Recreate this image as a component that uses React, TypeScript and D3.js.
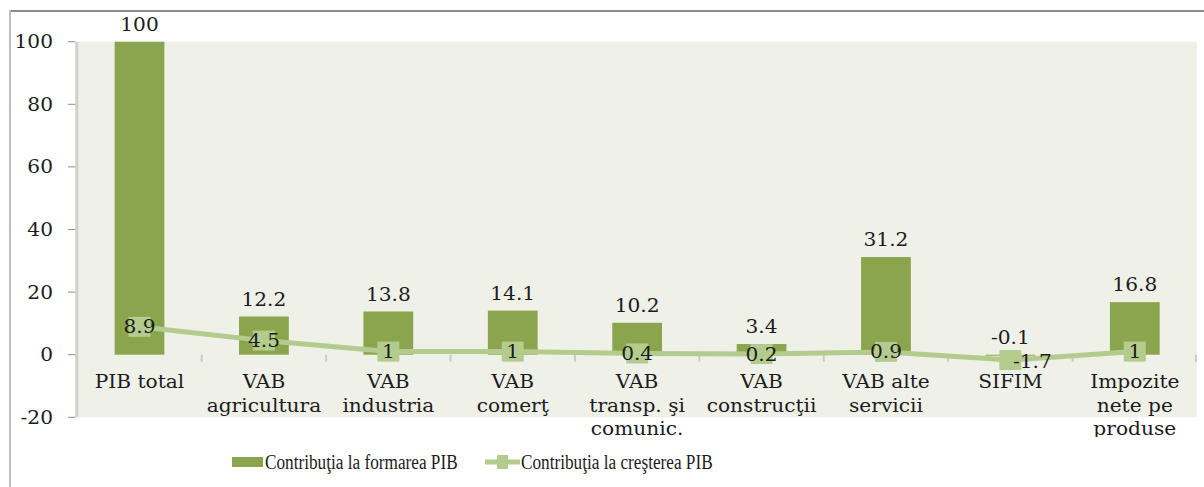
import * as d3 from "d3";
import { useEffect, useRef } from "react";

const categories = [
	["PIB total"],
	["VAB", "agricultura"],
	["VAB", "industria"],
	["VAB", "comerţ"],
	["VAB", "transp. şi", "comunic."],
	["VAB", "construcţii"],
	["VAB alte", "servicii"],
	["SIFIM"],
	["Impozite", "nete pe", "produse"]
];
const formareValues = [100, 12.2, 13.8, 14.1, 10.2, 3.4, 31.2, -0.1, 16.8];
const crestereValues = [8.9, 4.5, 1, 1, 0.4, 0.2, 0.9, -1.7, 1];
const yTicks = [-20, 0, 20, 40, 60, 80, 100];
const seriesNames = ["Contribuţia la formarea PIB", "Contribuţia la creşterea PIB"];

const BAR = "#8aa54e";
const LINE = "#b4cb8e";
const SERIF = "'DejaVu Serif', serif";

function App() {
	const ref = useRef(null);

	useEffect(() => {
		const svg = d3.select(ref.current);
		svg.selectAll("*").remove();

		const width = 1204;
		const height = 487;
		const plot = { left: 77.3, right: 1197, top: 41.7, bottom: 417.3 };

		const x = d3
			.scaleBand()
			.domain(categories.map((d, i) => i))
			.range([plot.left, plot.right])
			.padding(0);
		const y = d3.scaleLinear().domain([-20, 100]).range([plot.bottom, plot.top]);
		const cx = (i) => x(i) + x.bandwidth() / 2;
		const barW = x.bandwidth() * 0.4;

		// stretched serif text like the original rendering
		const addText = (g, str, px, py, anchor, size) =>
			g
				.append("text")
				.attr("transform", "translate(" + px + "," + py + ") scale(1.12,1)")
				.attr("text-anchor", anchor)
				.attr("font-family", SERIF)
				.attr("font-size", size || 18)
				.attr("fill", "#1c1c1c")
				.text(str);

		// legend text is squeezed instead
		const addLegendText = (g, str, px, py) =>
			g
				.append("text")
				.attr("transform", "translate(" + px + "," + py + ") scale(0.84,1)")
				.attr("font-family", "'Liberation Serif', serif")
				.attr("font-size", 20.5)
				.attr("fill", "#1c1c1c")
				.text(str);

		// outer frame
		svg.append("line")
			.attr("x1", 10).attr("x2", width).attr("y1", 11).attr("y2", 11)
			.attr("stroke", "#8a8a8a").attr("stroke-width", 2);
		svg.append("line")
			.attr("x1", 10).attr("x2", 10).attr("y1", 10).attr("y2", height)
			.attr("stroke", "#bdbdbd").attr("stroke-width", 2);

		// plot background
		svg.append("rect")
			.attr("x", plot.left)
			.attr("y", plot.top)
			.attr("width", plot.right - plot.left)
			.attr("height", plot.bottom - plot.top)
			.attr("fill", "#eff1e9");

		// y axis
		svg.append("line")
			.attr("x1", plot.left - 0.5).attr("x2", plot.left - 0.5)
			.attr("y1", plot.top).attr("y2", plot.bottom)
			.attr("stroke", "#cfd1cb").attr("stroke-width", 3);
		const yAxis = svg.append("g");
		yTicks.forEach((t) => {
			yAxis.append("line")
				.attr("x1", 68).attr("x2", plot.left - 2)
				.attr("y1", y(t)).attr("y2", y(t))
				.attr("stroke", "#8c8c8c").attr("stroke-width", 1);
			addText(yAxis, String(t), 53, y(t) + 6.5, "end");
		});

		// category separators on the zero line
		d3.range(1, categories.length + 1).forEach((i) => {
			const xx = i === categories.length ? plot.right - 1 : x(i);
			svg.append("line")
				.attr("x1", xx).attr("x2", xx)
				.attr("y1", y(0)).attr("y2", y(0) + 7)
				.attr("stroke", "#c9cbc5").attr("stroke-width", 2);
		});

		// category labels (clipped like the original)
		svg.append("clipPath")
			.attr("id", "labclip")
			.append("rect")
			.attr("x", 0).attr("y", 0).attr("width", width).attr("height", 437);
		const cats = svg.append("g").attr("clip-path", "url(#labclip)");
		categories.forEach((lines, i) => {
			lines.forEach((ln, k) => {
				addText(cats, ln, cx(i), 388 + k * 23.5, "middle");
			});
		});

		// bars
		svg.selectAll("rect.bar")
			.data(formareValues)
			.enter()
			.append("rect")
			.attr("class", "bar")
			.attr("x", (d, i) => cx(i) - barW / 2)
			.attr("y", (d) => y(Math.max(d, 0)))
			.attr("width", barW)
			.attr("height", (d) => Math.max(Math.abs(y(d) - y(0)), 1))
			.attr("fill", BAR);

		const barLabels = svg.append("g");
		formareValues.forEach((v, i) => {
			addText(barLabels, String(v), cx(i), y(Math.max(v, 0)) - 11, "middle");
		});

		// line series
		const line = d3
			.line()
			.x((d, i) => cx(i))
			.y((d) => y(d));
		svg.append("path")
			.datum(crestereValues)
			.attr("d", line)
			.attr("fill", "none")
			.attr("stroke", LINE)
			.attr("stroke-width", 5);
		svg.selectAll("rect.mark")
			.data(crestereValues)
			.enter()
			.append("rect")
			.attr("class", "mark")
			.attr("x", (d, i) => cx(i) - 11)
			.attr("y", (d) => y(d) - 10)
			.attr("width", 22)
			.attr("height", 20)
			.attr("fill", LINE);

		const lineLabels = svg.append("g");
		crestereValues.forEach((v, i) => {
			if (v < 0) addText(lineLabels, String(v), cx(i) + 22, y(v) + 8, "middle");
			else addText(lineLabels, String(v), cx(i), y(v) + 6.5, "middle");
		});

		// legend
		const legend = svg.append("g");
		legend.append("rect")
			.attr("x", 232).attr("y", 457).attr("width", 31).attr("height", 10)
			.attr("fill", BAR);
		addLegendText(legend, seriesNames[0], 265, 469);
		legend.append("line")
			.attr("x1", 485).attr("x2", 520).attr("y1", 462).attr("y2", 462)
			.attr("stroke", LINE).attr("stroke-width", 5);
		legend.append("rect")
			.attr("x", 497).attr("y", 455).attr("width", 11).attr("height", 14)
			.attr("fill", LINE);
		addLegendText(legend, seriesNames[1], 521, 469);
	}, []);

	return (
		<div style={{ position: "absolute", left: 0, top: 0 }}>
			<svg ref={ref} width={1204} height={487} style={{ display: "block", background: "#fff" }}></svg>
		</div>
	);
}
export default App;
